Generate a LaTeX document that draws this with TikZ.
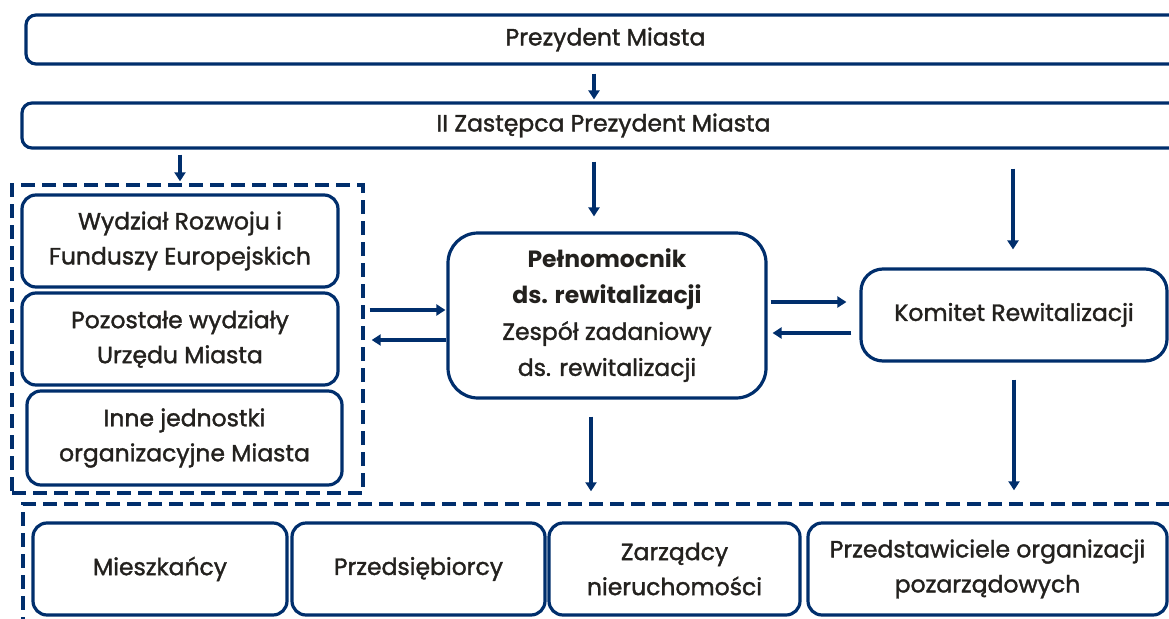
\documentclass[tikz,border=0pt]{standalone}
\usepackage{fontspec}
\setmainfont{Poppins}[UprightFeatures={FakeBold=1.5}]
\usetikzlibrary{arrows.meta,calc}
\definecolor{navy}{RGB}{0,46,108}
\definecolor{txt}{RGB}{35,33,30}
\begin{document}
\begin{tikzpicture}[x=1pt,y=-1pt,
  box/.style={draw=navy,line width=3.2pt,rounded corners=#1,align=center,text=txt,
    font=\fontsize{23.5}{35}\selectfont,inner sep=0pt},
  box/.default=14pt,
  arr/.style={draw=navy,line width=3.4pt,-{Triangle[length=9pt,width=11pt]}},
  grp/.style={draw=navy,line width=3.4pt,dash pattern=on 14pt off 7pt,inner sep=0pt}]
\useasboundingbox (0,0) rectangle (1169,618);
\clip (0,0) rectangle (1169,618);
% top boxes
\node[box=10pt,minimum width=1159,minimum height=49] (top) at (605.5,39.5) {Prezydent Miasta};
\node[box=10pt,minimum width=1163,minimum height=45] (zast) at (603.5,125.5) {II Zastępca Prezydent Miasta};
% left group
\node[grp,minimum width=351,minimum height=308] (grpL) at (187.5,339) {};
\node[box,minimum width=316,minimum height=92] (wrfe) at (180,241) {Wydział Rozwoju i\\Funduszy Europejskich};
\node[box,minimum width=316,minimum height=92] (pozo) at (180,339) {Pozostałe wydziały\\Urzędu Miasta};
\node[box,minimum width=315,minimum height=94] (inne) at (184.5,438) {Inne jednostki\\organizacyjne Miasta};
% centre
\node[box=30pt,minimum width=318,minimum height=165,font=\fontsize{23.5}{36}\selectfont] (pelnom) at (607,315.5)
  {\textbf{Pełnomocnik}\\\textbf{ds. rewitalizacji}\\Zespół zadaniowy\\ds. rewitalizacji};
\node[box=22pt,minimum width=306,minimum height=92] (kom) at (1014,315) {Komitet Rewitalizacji};
% bottom group
\node[grp,minimum width=1167,minimum height=136] (grpB) at (606.5,572) {};
\node[box,minimum width=254,minimum height=92] (mie) at (160,569) {Mieszkańcy};
\node[box,minimum width=253,minimum height=92] (prz) at (418.5,569) {Przedsiębiorcy};
\node[box,minimum width=251,minimum height=92] (zar) at (674.5,569) {Zarządcy\\nieruchomości};
\node[box,minimum width=359,minimum height=92] (ngo) at (987.5,569) {Przedstawiciele organizacji\\pozarządowych};
% connectors
\draw[arr] ($(top.south)+(-11.5,8)$) -- ($(zast.north)+(-9.5,-2)$);
\draw[arr] ($(zast.south -| grpL.north)+(-7.5,5)$) -- ($(grpL.north)+(-7.5,-2)$);
\draw[arr] ($(zast.south -| pelnom.north)+(-13,12)$) -- ($(pelnom.north)+(-13,-15)$);
\draw[arr] ($(zast.south -| kom.north)+(-1,19)$) -- ($(kom.north)+(-1,-18)$);
\draw[arr] ($(grpL.east |- pelnom.west)+(5,-5.5)$) -- ($(pelnom.west)+(-1,-5.5)$);
\draw[arr] ($(pelnom.west)+(0,24.5)$) -- ($(grpL.east |- pelnom.west)+(7,24.5)$);
\draw[arr] ($(pelnom.east |- kom.west)+(3,-13)$) -- ($(kom.west)+(-13,-13)$);
\draw[arr] ($(kom.west)+(-8,18)$) -- ($(pelnom.east |- kom.west)+(5,18)$);
\draw[arr] ($(pelnom.south)+(-16,17)$) -- ($(pelnom.south |- grpB.north)+(-16,-11)$);
\draw[arr] ($(kom.south)+(0,17)$) -- ($(kom.south |- grpB.north)+(0,-12)$);
\end{tikzpicture}
\end{document}
